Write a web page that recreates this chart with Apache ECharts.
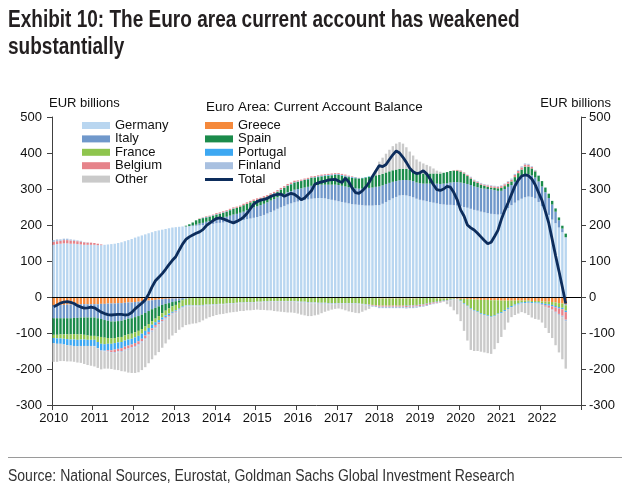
<!DOCTYPE html>
<html>
<head>
<meta charset="utf-8">
<script src="https://cdn.jsdelivr.net/npm/echarts@6/dist/echarts.min.js"></script>
<style>
html,body{margin:0;padding:0;background:#fff;}
#c{width:630px;height:497px;}
</style>
</head>
<body>
<div id="c"></div>
<script>
// ---- Data (EUR billions, monthly from Jan 2010 to Aug 2022) ----
const years = ['2010','2011','2012','2013','2014','2015','2016','2017','2018','2019','2020','2021','2022'];
const yTicks = [-300,-200,-100,0,100,200,300,400,500];

const germany = [
145,147,148,149,149,148,148,147,146,145,145,145,
145,144,144,145,146,147,148,150,152,155,158,161,
165,168,171,174,177,180,183,185,187,189,191,193,
194,195,196,196,197,197,198,199,200,201,202,203,
205,206,207,208,210,211,212,213,214,216,218,220,
222,225,228,232,236,240,245,249,253,257,260,263,
265,267,269,271,273,274,275,275,274,272,270,268,
266,264,262,260,258,257,256,255,254,254,254,255,
255,259,264,269,274,278,282,283,282,280,277,273,
270,268,266,264,262,260,258,257,256,256,255,254,
252,250,248,245,242,240,237,235,233,231,230,229,
230,238,247,255,262,268,273,277,279,278,274,264,
252,240,228,215,205,193,180,166];

const greece = [
-23,-23,-22,-22,-21,-21,-20,-20,-20,-20,-20,-20,
-20,-20,-19,-19,-18,-18,-18,-17,-17,-16,-15,-15,
-14,-13,-12,-11,-10,-9,-8,-7,-6,-5,-5,-4,
-4,-4,-3,-3,-3,-3,-3,-3,-3,-3,-3,-3,
-3,-3,-3,-3,-3,-3,-3,-2,-2,-2,-2,-2,
-1,-1,-1,-1,-1,-1,-1,-1,-1,-1,-1,-1,
-2,-2,-2,-2,-2,-2,-2,-2,-2,-2,-2,-2,
-2,-2,-2,-2,-2,-2,-3,-3,-3,-3,-3,-3,
-4,-4,-4,-4,-4,-4,-4,-4,-4,-4,-4,-4,
-3,-3,-3,-3,-3,-4,-4,-4,-4,-4,-4,-5,
-5,-5,-6,-6,-7,-7,-8,-8,-8,-9,-9,-9,
-10,-10,-10,-10,-10,-10,-10,-10,-10,-11,-11,-11,
-12,-13,-13,-14,-15,-17,-18,-20];

const italy = [
-36,-36,-37,-37,-38,-38,-38,-38,-37,-37,-37,-37,
-37,-39,-42,-45,-48,-50,-50,-50,-49,-47,-45,-44,
-42,-40,-37,-33,-29,-25,-22,-19,-16,-14,-12,-10,
-8,-6,-4,-2,0,2,3,5,6,8,9,11,
12,13,14,15,16,18,19,21,23,25,27,29,
30,30,31,31,32,32,32,33,33,34,34,35,
35,35,35,35,36,36,36,37,38,40,42,44,
45,45,45,45,45,45,45,46,48,49,50,51,
52,51,50,48,46,44,42,42,43,44,45,45,
46,47,49,51,53,55,56,58,60,62,64,65,
66,66,66,66,65,65,65,66,67,68,67,66,
65,62,59,56,58,60,62,63,62,60,58,57,
55,51,47,42,32,20,10,-3];

const spain = [
-46,-46,-45,-45,-45,-45,-45,-46,-47,-48,-50,-51,
-51,-51,-50,-49,-48,-47,-46,-45,-45,-44,-44,-43,
-42,-41,-40,-38,-36,-33,-30,-27,-23,-19,-15,-12,
-10,-6,-2,2,5,8,12,13,13,12,12,12,
12,12,13,14,15,16,17,17,18,18,18,18,
18,17,17,16,16,15,15,16,17,18,19,20,
20,20,21,21,22,22,22,23,24,25,26,27,
28,28,28,28,28,28,28,29,30,31,31,32,
32,32,32,32,32,32,32,31,31,30,29,28,
28,28,28,28,28,28,29,30,31,32,32,32,
30,27,22,18,14,12,10,8,6,5,6,7,
8,8,9,10,13,16,19,22,21,19,17,16,
15,13,12,10,9,8,8,10];

const france = [
-9,-10,-11,-12,-13,-14,-15,-15,-14,-13,-12,-11,
-11,-15,-19,-18,-16,-15,-14,-14,-14,-14,-14,-14,
-14,-14,-13,-12,-11,-10,-10,-11,-12,-13,-14,-15,
-15,-16,-17,-18,-19,-20,-20,-20,-19,-18,-18,-17,
-17,-16,-16,-15,-14,-14,-13,-13,-13,-12,-12,-12,
-12,-12,-11,-11,-10,-10,-10,-10,-10,-10,-10,-10,
-10,-11,-11,-12,-13,-13,-14,-14,-14,-15,-15,-15,
-15,-15,-15,-15,-15,-15,-15,-16,-17,-18,-19,-20,
-20,-20,-20,-20,-20,-20,-20,-20,-20,-19,-19,-18,
-18,-17,-15,-13,-11,-9,-8,-6,-5,-3,-2,0,
-5,-12,-18,-25,-29,-33,-37,-40,-43,-45,-42,-37,
-32,-26,-20,-15,-11,-8,-5,-4,-3,-3,-4,-4,
-5,-6,-7,-8,-10,-11,-12,-15];

const portugal = [
-14,-15,-15,-16,-17,-17,-18,-18,-18,-18,-17,-17,
-17,-17,-18,-18,-18,-18,-18,-18,-17,-17,-17,-16,
-16,-15,-14,-13,-11,-10,-8,-7,-6,-5,-4,-3,
-3,-2,-2,-1,-1,0,0,0,1,1,1,1,
1,1,1,1,1,1,0,0,0,0,0,0,
0,0,0,0,0,1,1,1,1,1,1,1,
1,1,1,1,1,1,2,2,2,2,2,2,
2,2,2,2,2,2,1,1,1,1,0,0,
0,0,0,0,0,0,0,0,-1,-1,-1,-1,
-1,-1,-1,-1,-1,-1,-1,-1,-1,-1,-1,-1,
-2,-2,-2,-2,-2,-2,-2,-2,-2,-2,-2,-2,
-3,-3,-3,-3,-3,-3,-3,-3,-3,-3,-3,-3,
-4,-4,-4,-4,-4,-4,-4,-4];

const belgium = [
8,8,8,9,9,9,8,8,8,7,6,6,
5,4,2,0,-3,-5,-7,-7,-8,-8,-8,-8,
-8,-8,-7,-7,-6,-6,-5,-5,-4,-3,-3,-2,
-2,-1,-1,0,0,0,0,1,1,2,2,2,
3,3,3,3,3,3,3,3,4,4,4,4,
4,4,4,4,4,4,4,4,4,4,4,4,
3,3,3,3,3,3,3,3,3,3,3,3,
3,3,3,2,2,1,1,0,0,-1,-2,-2,
-3,-3,-3,-3,-3,-3,-3,-3,-3,-3,-3,-3,
-3,-3,-3,-3,-3,-2,-2,-1,-1,0,1,2,
3,3,3,3,3,3,3,3,4,4,4,4,
5,5,5,5,6,6,6,6,5,4,2,0,
-2,-4,-6,-9,-12,-15,-18,-21];

const finland = [
5,5,4,4,4,3,3,2,2,1,1,0,
-1,-1,-2,-2,-2,-2,-3,-3,-3,-3,-4,-4,
-4,-4,-4,-4,-4,-4,-4,-4,-4,-4,-3,-3,
-3,-3,-3,-3,-3,-3,-3,-3,-3,-3,-3,-3,
-2,-2,-2,-2,-2,-2,-2,-2,-2,-2,-2,-2,
-2,-2,-2,-2,-2,-2,-2,-2,-2,-2,-2,-2,
-3,-3,-3,-3,-3,-3,-3,-3,-3,-3,-3,-3,
-2,-2,-2,-2,-2,-2,-2,-2,-3,-3,-3,-3,
-4,-4,-4,-4,-4,-4,-4,-4,-4,-4,-4,-4,
-3,-3,-3,-2,-2,-2,-1,-1,-1,-1,0,0,
1,1,1,2,2,2,2,2,2,2,2,2,
2,2,2,3,3,3,3,3,3,2,2,1,
0,-1,-2,-2,-3,-3,-4,-4];

const other = [
-52,-50,-48,-46,-45,-44,-44,-45,-47,-50,-53,-55,
-56,-54,-51,-48,-46,-45,-46,-49,-53,-58,-63,-67,
-71,-74,-76,-77,-77,-76,-75,-73,-70,-66,-62,-58,
-55,-53,-52,-51,-50,-48,-47,-44,-40,-36,-32,-30,
-28,-27,-26,-25,-24,-23,-23,-22,-22,-21,-21,-20,
-20,-21,-22,-23,-24,-26,-27,-28,-29,-30,-30,-31,
-31,-33,-35,-36,-35,-33,-30,-26,-22,-18,-15,-13,
-13,-15,-18,-21,-23,-25,-25,-20,-14,-8,0,15,
37,45,52,60,67,72,74,70,60,50,42,36,
32,28,24,20,14,8,5,0,-8,-18,-30,-42,
-55,-75,-95,-114,-112,-108,-105,-104,-103,-102,-92,-80,
-66,-52,-38,-28,-26,-25,-24,-28,-34,-40,-43,-45,
-48,-58,-68,-77,-90,-104,-117,-132];

const total = [
-27,-22,-17,-14,-13,-15,-18,-24,-28,-31,-30,-28,
-30,-36,-42,-46,-49,-50,-49,-48,-48,-50,-49,-43,
-33,-25,-17,-8,8,28,45,55,65,77,90,102,
112,130,147,160,167,172,177,181,187,198,205,212,
218,220,217,213,209,206,210,215,222,232,245,258,
265,269,271,274,279,283,285,286,280,284,288,285,
278,270,275,285,295,313,317,320,322,325,326,327,
322,318,330,320,303,290,288,295,305,318,335,350,
365,362,368,382,395,406,400,388,374,358,348,343,
345,351,342,328,312,298,296,300,307,305,290,270,
242,225,200,192,186,177,167,157,148,152,168,185,
215,240,262,285,308,325,336,339,337,328,312,290,
268,238,205,160,115,72,28,-18];

// ---- Build chart ----
const months = [];
years.forEach(y => { for (let m = 1; m <= 12; m++) months.push(y + '-' + (m < 10 ? '0' + m : m)); });

const FONT = '"Liberation Sans", Arial, sans-serif';
const barSeries = [
  ['Germany', germany, '#B9D6F0'],
  ['Greece', greece, '#F5893B'],
  ['Italy', italy, '#7098CB'],
  ['Spain', spain, '#1B8B4B'],
  ['France', france, '#8FC54E'],
  ['Portugal', portugal, '#3DA8F2'],
  ['Belgium', belgium, '#E6838A'],
  ['Finland', finland, '#A8C0E0'],
  ['Other', other, '#CACACA']
];

const series = barSeries.map(([name, data, color], i) => {
  const s = {
    name, type: 'bar', stack: 'ca', data,
    barWidth: '70%',
    itemStyle: { color },
    emphasis: { disabled: true },
    animation: false
  };
  if (i === 0) {
    s.markLine = {
      silent: true, symbol: 'none', animation: false,
      label: { show: false },
      lineStyle: { color: '#000', width: 1, type: 'solid' },
      data: [{ yAxis: 0 }]
    };
  }
  return s;
});
series.push({
  name: 'Total', type: 'line', data: total,
  showSymbol: false, symbol: 'none', z: 10,
  lineStyle: { color: '#0D2D5C', width: 2.8 },
  itemStyle: { color: '#0D2D5C' },
  animation: false
});

const yAxisCommon = {
  type: 'value', min: yTicks[0], max: yTicks[yTicks.length - 1], interval: 100,
  axisLine: { show: true, lineStyle: { color: '#404040', width: 1 } },
  axisTick: { show: true, length: 5, lineStyle: { color: '#404040' } },
  splitLine: { show: false },
  axisLabel: { color: '#111', fontSize: 13, fontFamily: FONT }
};

const legendCommon = {
  orient: 'vertical', itemWidth: 28, itemHeight: 7, itemGap: 0.4, padding: 0,
  textStyle: { color: '#111', fontSize: 13, fontFamily: FONT },
  selectedMode: false
};

const chart = echarts.init(document.getElementById('c'), null, { renderer: 'canvas' });
chart.setOption({
  backgroundColor: '#fff',
  animation: false,
  grid: { left: 52, right: 49, top: 117, bottom: 92 },
  xAxis: {
    type: 'category', data: months, boundaryGap: true,
    axisLine: { onZero: false, lineStyle: { color: '#404040', width: 1 } },
    axisTick: { show: true, length: 5, interval: (i) => i % 12 === 0, lineStyle: { color: '#404040' } },
    axisLabel: { interval: (i) => i % 12 === 0, formatter: (v) => v.slice(0, 4), color: '#111', fontSize: 13, fontFamily: FONT, margin: 7 }
  },
  yAxis: [
    Object.assign({}, yAxisCommon, { position: 'left', axisLabel: Object.assign({}, yAxisCommon.axisLabel, { margin: 10 }) }),
    Object.assign({}, yAxisCommon, { position: 'right', axisLabel: Object.assign({}, yAxisCommon.axisLabel, { margin: 8 }) })
  ],
  legend: [
    Object.assign({}, legendCommon, { left: 82, top: 119, data: ['Germany', 'Italy', 'France', 'Belgium', 'Other'].map(n => ({ name: n, icon: 'rect' })) }),
    Object.assign({}, legendCommon, { left: 205, top: 119, data: ['Greece', 'Spain', 'Portugal', 'Finland'].map(n => ({ name: n, icon: 'rect' })) }),
    Object.assign({}, legendCommon, { left: 205, top: 173, itemHeight: 3, data: [{ name: 'Total', icon: 'rect' }] })
  ],
  series,
  graphic: [
    { type: 'text', left: 8, top: 9, scaleX: 0.827, style: { text: 'Exhibit 10: The Euro area current account has weakened', font: 'bold 23px ' + FONT, fill: '#231f20' } },
    { type: 'text', left: 8, top: 36, scaleX: 0.827, style: { text: 'substantially', font: 'bold 23px ' + FONT, fill: '#231f20' } },
    { type: 'text', left: 49, top: 97, style: { text: 'EUR billions', font: '13px ' + FONT, fill: '#111' } },
    { type: 'text', right: 19, top: 97, style: { text: 'EUR billions', font: '13px ' + FONT, fill: '#111' } },
    { type: 'text', left: 206, top: 101, style: { text: 'Euro Area: Current Account Balance', font: '13.4px ' + FONT, fill: '#111' } },
    { type: 'line', shape: { x1: 8, y1: 457.5, x2: 622, y2: 457.5 }, style: { stroke: '#9a9a9a', lineWidth: 1 } },
    { type: 'text', left: 8, top: 469, scaleX: 0.875, style: { text: 'Source: National Sources, Eurostat, Goldman Sachs Global Investment Research', font: '16px ' + FONT, fill: '#333' } }
  ]
});
</script>
</body>
</html>
